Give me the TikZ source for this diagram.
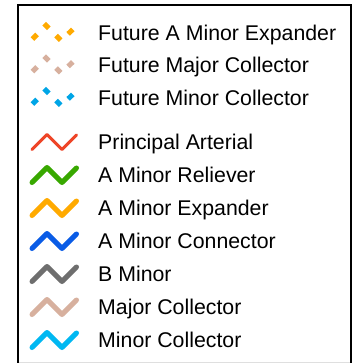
\documentclass[tikz,border=0pt]{standalone}
\usepackage{fontspec}
\setmainfont{Liberation Sans}
\definecolor{cRed}{HTML}{EE4527}
\definecolor{cGreen}{HTML}{38A800}
\definecolor{cOrange}{HTML}{FFAA00}
\definecolor{cBlue}{HTML}{0A5CE6}
\definecolor{cGrey}{HTML}{6E6E6E}
\definecolor{cTan}{HTML}{D7B09E}
\definecolor{cCyan}{HTML}{00B8F2}
\definecolor{cFBlue}{HTML}{00A5E6}
\begin{document}
\begin{tikzpicture}[x=1pt,y=-1pt,
  lbl/.style={anchor=base west,inner sep=0pt,font=\fontsize{21.3}{24}\selectfont},
  solidzz/.style={line width=5pt,line cap=round,line join=round},
  futurezz/.style={line width=5pt,line cap=butt,dash pattern=on 6.5pt off 10.2pt,dash phase=14.7pt}]
\useasboundingbox (0,0) rectangle (358,363);
\fill[white] (0,0) rectangle (358,363);
% frame
\draw[gray!25,line width=1pt] (19,362) -- (350,362);
\draw[black,line width=2.5pt] (18,370) -- (18,5) -- (351,5) -- (351,370);
% future rows
\foreach \y/\c in {33/cOrange,65.5/cTan,98/cFBlue}{
  \draw[futurezz,\c] (31,\y+7.5) -- (46,\y-7.5) -- (61,\y+7.5) -- (76,\y-6.5);
}
\node[lbl] (fame) at (98,40.5) {Future A Minor Expander};
\node[lbl] (fmjc) at (98,73) {Future Major Collector};
\node[lbl] (fmnc) at (98,105.5) {Future Minor Collector};
% solid rows
\draw[cRed,line width=3pt,line cap=round,line join=round] (32,149.5) -- (47,134.5) -- (62,149.5) -- (76.5,135);
\foreach \y/\c in {175/cGreen,208/cOrange,241/cBlue,274/cGrey,307/cTan,340/cCyan}{
  \draw[solidzz,\c] (32,\y+7.5) -- (47,\y-7.5) -- (62,\y+7.5) -- (76.5,\y-7);
}
\node[lbl] (pa) at (98,149.5) {Principal Arterial};
\node[lbl] (amr) at (98,182.5) {A Minor Reliever};
\node[lbl] (ame) at (98,215.5) {A Minor Expander};
\node[lbl] (amc) at (98,248.5) {A Minor Connector};
\node[lbl] (bm) at (98,281.5) {B Minor};
\node[lbl] (mjc) at (98,314.5) {Major Collector};
\node[lbl] (mnc) at (98,347.5) {Minor Collector};
\end{tikzpicture}
\end{document}
